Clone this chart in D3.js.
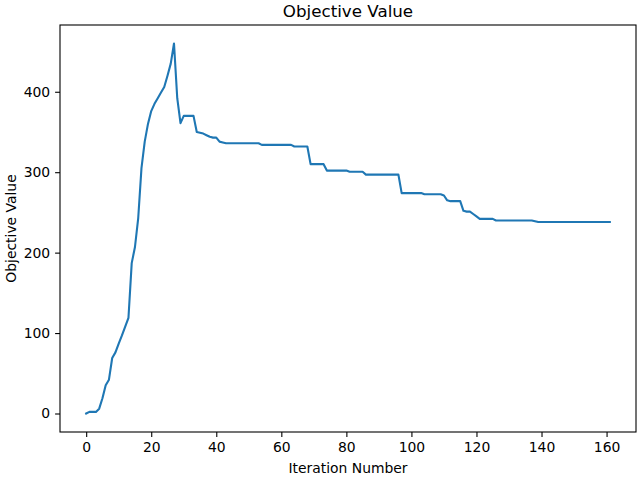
<!DOCTYPE html>
<html>
<head>
<meta charset="utf-8">
<script src="https://cdn.jsdelivr.net/npm/d3@7"></script>
<style>
  body { margin: 0; background: #fff; }
  text { font-family: "DejaVu Sans", sans-serif; fill: #000; }
</style>
</head>
<body>
<div id="chart"></div>
<script>
// data
const iterations = d3.range(0, 162);
const objective = [
  0, 2, 2, 2, 6, 19, 35, 42, 69, 76,
  87, 97, 108, 119, 187, 207, 243, 305, 338, 360,
  376, 385, 392, 399, 406, 420, 435, 460, 392, 361,
  370, 370, 370, 370, 350, 349, 348, 346, 344, 343,
  343, 338, 337, 336, 336, 336, 336, 336, 336, 336,
  336, 336, 336, 336, 334, 334, 334, 334, 334, 334,
  334, 334, 334, 334, 332, 332, 332, 332, 332, 310,
  310, 310, 310, 310, 302, 302, 302, 302, 302, 302,
  302, 300.5, 300.5, 300.5, 300.5, 300.5, 297, 297, 297, 297,
  297, 297, 297, 297, 297, 297, 297, 274, 274, 274,
  274, 274, 274, 274, 272.5, 272.5, 272.5, 272.5, 272.5, 272.5,
  271, 265, 264, 264, 264, 264, 252, 251, 251, 248,
  245, 242, 242, 242, 242, 242, 240, 240, 240, 240,
  240, 240, 240, 240, 240, 240, 240, 240, 239, 238,
  238, 238, 238, 238, 238, 238, 238, 238, 238, 238,
  238, 238, 238, 238, 238, 238, 238, 238, 238, 238,
  238, 238
];
const xTicks = [0, 20, 40, 60, 80, 100, 120, 140, 160];
const yTicks = [0, 100, 200, 300, 400];

const width = 640
const height = 480
const margin = {top: 25, right: 4, bottom: 48, left: 60};

const svg = d3.select("#chart")
  .append("svg")
    .attr("width", width)
    .attr("height", height);

// matplotlib style 5% padding on both axes
const xPad = (d3.max(iterations) - d3.min(iterations)) * 0.05;
const yPad = (d3.max(objective) - d3.min(objective)) * 0.05;

const x = d3.scaleLinear()
  .domain([d3.min(iterations) - xPad, d3.max(iterations) + xPad])
  .range([margin.left, width - margin.right]);

const y = d3.scaleLinear()
  .domain([d3.min(objective) - yPad, d3.max(objective) + yPad])
  .range([height - margin.bottom, margin.top]);

// the line
const line = d3.line()
  .x((d, i) => x(iterations[i]))
  .y(d => y(d));

svg.append("path")
  .datum(objective)
  .attr("fill", "none")
  .attr("stroke", "#1f77b4")
  .attr("stroke-width", 2.1)
  .attr("stroke-linejoin", "round")
  .attr("stroke-linecap", "square")
  .attr("d", line);

// axes
const xAxis = svg.append("g")
  .attr("transform", `translate(0,${height - margin.bottom})`)
  .call(d3.axisBottom(x).tickValues(xTicks).tickSize(4.9).tickPadding(4.9).tickFormat(d3.format("d")));

const yAxis = svg.append("g")
  .attr("transform", `translate(${margin.left},0)`)
  .call(d3.axisLeft(y).tickValues(yTicks).tickSize(4.9).tickPadding(4.9).tickFormat(d3.format("d")));

[xAxis, yAxis].forEach(g => {
  g.select(".domain").remove();
  g.selectAll(".tick line").attr("stroke", "#000").attr("stroke-width", 1.1);
  g.selectAll(".tick text")
    .attr("font-size", "13.9px")
    .attr("font-family", "DejaVu Sans, sans-serif")
    .attr("fill", "#000");
});

// frame
svg.append("rect")
  .attr("x", margin.left)
  .attr("y", margin.top)
  .attr("width", width - margin.left - margin.right)
  .attr("height", height - margin.top - margin.bottom)
  .attr("fill", "none")
  .attr("stroke", "#000")
  .attr("stroke-width", 1.1);

// labels
const cx = (margin.left + width - margin.right) / 2;

svg.append("text")
  .attr("x", cx)
  .attr("y", 17)
  .attr("text-anchor", "middle")
  .attr("font-size", "16.7px")
  .text("Objective Value");

svg.append("text")
  .attr("x", cx)
  .attr("y", 473)
  .attr("text-anchor", "middle")
  .attr("font-size", "13.9px")
  .text("Iteration Number");

svg.append("text")
  .attr("transform", `translate(16,${(margin.top + height - margin.bottom) / 2}) rotate(-90)`)
  .attr("text-anchor", "middle")
  .attr("font-size", "13.9px")
  .text("Objective Value");
</script>
</body>
</html>
